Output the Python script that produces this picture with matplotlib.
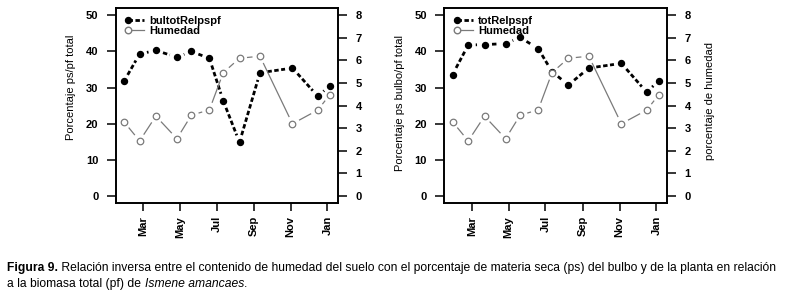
import matplotlib
matplotlib.use('Agg')
import matplotlib.pyplot as plt
import matplotlib.dates as mdates
from matplotlib.collections import LineCollection
from matplotlib.legend_handler import HandlerLine2DCompound
from matplotlib.lines import Line2D
import numpy as np
import pandas as pd

# fechas de muestreo
fechas = pd.to_datetime(['2009-01-28', '2009-02-23', '2009-03-22', '2009-04-26',
                         '2009-05-20', '2009-06-19', '2009-07-12', '2009-08-08',
                         '2009-09-11', '2009-11-04', '2009-12-16', '2010-01-05'])

# % ps/pf del bulbo y de la planta
bulbo = [31.7, 39.3, 40.3, 38.4, 40.0, 38.1, 26.3, 14.8, 34.1, 35.4, 27.6, 30.5]
planta = [33.6, 41.8, 41.9, 42.2, 43.9, 40.8, 34.4, 30.7, 35.4, 36.7, 28.7, 31.9]

# humedad del suelo
humedad = [3.28, 2.43, 3.53, 2.53, 3.57, 3.81, 5.46, 6.10, 6.19, 3.19, 3.80, 4.48]

yticks_izq = [0, 10, 20, 30, 40, 50]
yticks_der = [0, 1, 2, 3, 4, 5, 6, 7, 8]

FUENTE = ['Liberation Sans', 'DejaVu Sans']
plt.rcParams['font.family'] = FUENTE
GRIS = '#7a7a7a'
GAP = 7.5  # hueco en px alrededor de los puntos (tipo "b" de R)


class MarcadorIzq(HandlerLine2DCompound):
    # punto al inicio de la linea, como en la leyenda original
    def get_xdata(self, legend, xdescent, ydescent, width, height, fontsize):
        return [-xdescent, -xdescent + width], [-xdescent]


def segmentos(ax, x, y):
    pts = ax.transData.transform(np.column_stack([mdates.date2num(x), y]))
    inv = ax.transData.inverted()
    segs = []
    for p, q in zip(pts[:-1], pts[1:]):
        d = q - p
        L = np.hypot(*d)
        if L > 2 * GAP:
            u = d / L
            segs.append(inv.transform(np.array([p + u * GAP, q - u * GAP])))
    return segs


def panel(rect, serie, nombre, ylab_izq, ylab_der=None):
    ax = fig.add_axes(rect)
    ax2 = ax.twinx()

    xn = mdates.date2num(fechas)
    pad = 0.04 * (xn.max() - xn.min())
    ax.set_xlim(xn.min() - pad, xn.max() + pad)
    ax.set_ylim(-2, 52)
    ax2.set_ylim(-0.32, 8.32)

    ax.add_collection(LineCollection(segmentos(ax, fechas, serie), colors='black',
                                     linewidths=2, linestyles=[(0, (1.6, 0.9))]))
    ax.plot(fechas, serie, 'o', ms=4.3, color='black', zorder=3)

    ax2.add_collection(LineCollection(segmentos(ax2, fechas, humedad), colors=GRIS,
                                      linewidths=0.9))
    ax2.plot(fechas, humedad, 'o', ms=4.7, mfc='white', mec=GRIS, mew=0.9, zorder=3)

    ax.xaxis.set_major_locator(mdates.MonthLocator(bymonth=[1, 3, 5, 7, 9, 11]))
    ax.xaxis.set_major_formatter(mdates.DateFormatter('%b'))
    ax.set_yticks(yticks_izq)
    ax2.set_yticks(yticks_der)

    for a in (ax, ax2):
        for s in a.spines.values():
            s.set_linewidth(1.2)
        a.tick_params(axis='both', width=1.1, length=6.5, pad=6, labelsize=8)
        for lab in a.get_xticklabels() + a.get_yticklabels():
            lab.set_fontweight('bold')
    ax.tick_params(axis='x', length=6, pad=3.5, labelrotation=90)

    ax.set_ylabel(ylab_izq, fontsize=8, labelpad=7, loc='top')
    ax.yaxis.label.set_y(0.862)
    if ylab_der:
        ax2.set_ylabel(ylab_der, fontsize=8, labelpad=10, loc='top')
        ax2.yaxis.label.set_y(0.826)

    h1 = Line2D([], [], color='black', lw=2, dashes=(1.6, 0.9), marker='o', ms=4.3)
    h2 = Line2D([], [], color=GRIS, lw=0.9, marker='o', ms=4.7, mfc='white', mec=GRIS)
    ax.legend([h1, h2], [nombre, 'Humedad'], loc='upper left',
              bbox_to_anchor=(0.055, 0.96), frameon=False, borderpad=0,
              borderaxespad=0, handlelength=1.45, handletextpad=0.5,
              labelspacing=0.0, prop={'weight': 'bold', 'size': 8},
              handler_map={Line2D: MarcadorIzq()})
    return ax


fig = plt.figure(figsize=(7.92, 2.94), dpi=100)

panel([0.1461, 0.310, 0.2807, 0.662], bulbo, 'bultotRelpspf', 'Porcentaje ps/pf total')
panel([0.5610, 0.310, 0.2812, 0.662], planta, 'totRelpspf',
      'Porcentaje ps bulbo/pf total', 'porcentaje de humedad')

# pie de figura
narrow = ['Liberation Sans Narrow', 'Liberation Sans']
fs = 8.7
renderer = fig.canvas.get_renderer()
t = fig.text(0.009, 1 - 268 / 294, 'Figura 9.', fontsize=fs, weight='bold',
             family=narrow, va='center')
bb = t.get_window_extent(renderer)
fig.text(bb.x1 / fig.bbox.width, 1 - 268 / 294,
         ' Relación inversa entre el contenido de humedad del suelo con el porcentaje '
         'de materia seca (ps) del bulbo y de la planta en relación',
         fontsize=fs, family=narrow, va='center')
t = fig.text(0.009, 1 - 284 / 294, 'a la biomasa total (pf) de ', fontsize=fs,
             family=narrow, va='center')
bb = t.get_window_extent(renderer)
t = fig.text(bb.x1 / fig.bbox.width, 1 - 284 / 294, 'Ismene amancaes', fontsize=fs,
             family=narrow, style='italic', va='center')
bb = t.get_window_extent(renderer)
fig.text(bb.x1 / fig.bbox.width, 1 - 284 / 294, '.', fontsize=fs, family=narrow,
         va='center')

fig.savefig('out.png', dpi=100)
